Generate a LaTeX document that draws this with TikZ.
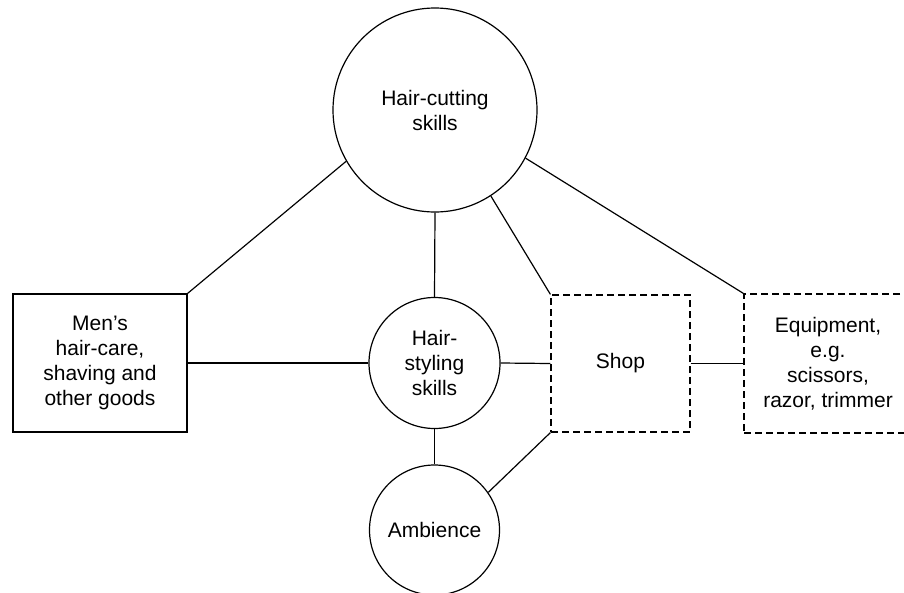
\documentclass[tikz,border=0pt]{standalone}
\usepackage{fontspec}
\setmainfont{Liberation Sans}
\begin{document}
\begin{tikzpicture}[x=1pt,y=-1pt,
  line width=1.2pt,
  lbl/.style={font=\fontsize{21}{25}\selectfont, align=center, inner sep=0pt},
  skill/.style={lbl, draw, circle, minimum size=#1},
  goods/.style={lbl, draw, rectangle},
  asset/.style={lbl, draw, rectangle, dash pattern=on 7pt off 4pt}]
  \clip (0,0) rectangle (904,592);
  \fill[white] (0,0) rectangle (904,592);

  % central skills
  \node[skill=204pt] (cut) at (435,110) {Hair-cutting\\skills};
  \node[skill=131pt] (style) at (434.5,363) {Hair-\\styling\\skills};
  \node[skill=130pt] (amb) at (434.5,530) {Ambience};

  % goods and assets
  \node[goods, minimum width=174pt, minimum height=138pt] (goods) at (100,363)
    {Men’s\\hair-care,\\shaving and\\other goods};
  \node[asset, minimum width=139pt, minimum height=137pt] (shop) at (620.5,363.5) {Shop};
  \node[asset, minimum width=168pt, minimum height=139pt] (equip) at (828,363.5)
    {Equipment,\\e.g.\\scissors,\\razor, trimmer};

  % links
  \draw (cut.210.5) -- (goods.north east);
  \draw (cut.south) -- (style.north);
  \draw (cut.-57.7) -- (shop.north west);
  \draw (cut.-28.6) -- (equip.north west);
  \draw (goods.east) -- (style.west);
  \draw (style.east) -- (shop.west);
  \draw (shop.east) -- (equip.west);
  \draw (style.south) -- (amb.north);
  \draw (amb.35) -- (shop.south west);
\end{tikzpicture}
\end{document}
